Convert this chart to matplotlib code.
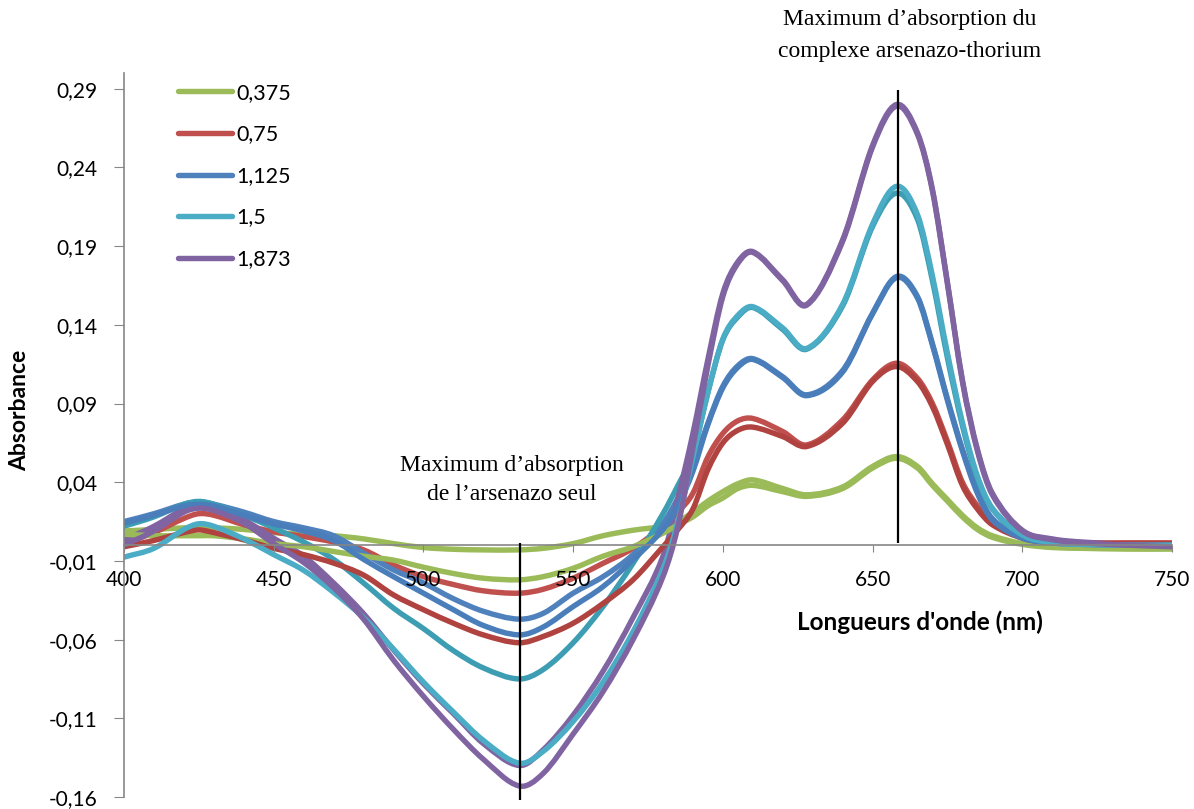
import numpy as np
import matplotlib
matplotlib.use("Agg")
import matplotlib.pyplot as plt
from matplotlib.path import Path
from matplotlib.patches import PathPatch
from matplotlib.lines import Line2D
from matplotlib.ticker import FuncFormatter

# wavelengths (nm)
wl = [400, 410, 420, 425, 430, 440, 450, 460, 470, 480,
      490, 500, 510, 520, 532, 540, 550, 560, 570, 580,
      585, 590, 595, 600, 605, 610, 620, 628, 640, 650,
      658, 665, 670, 675, 680, 685, 690, 700, 710, 720,
      735, 750]

# absorbance, two runs per concentration
green_a = [0.009, 0.010, 0.011, 0.011, 0.011, 0.010, 0.008, 0.007, 0.006, 0.004,
           0.001, -0.0015, -0.0026, -0.003, -0.003, -0.002, 0.001, 0.006, 0.0095, 0.012,
           0.015, 0.021, 0.028, 0.034, 0.039, 0.0415, 0.036, 0.032, 0.037, 0.050,
           0.0563, 0.050, 0.039, 0.029, 0.019, 0.011, 0.006, 0.001, -0.001, -0.0015,
           -0.002, -0.002]
green_b = [0.007, 0.006, 0.006, 0.006, 0.006, 0.004, 0.001, -0.001, -0.004, -0.007,
           -0.0095, -0.014, -0.018, -0.021, -0.022, -0.020, -0.0147, -0.007, -0.001, 0.0076,
           0.013, 0.018, 0.025, 0.030, 0.036, 0.038, 0.034, 0.031, 0.036, 0.049,
           0.0552, 0.049, 0.038, 0.028, 0.018, 0.010, 0.005, 0.0005, -0.0015, -0.002,
           -0.0025, -0.0025]
red_a = [0.001, 0.008, 0.017, 0.020, 0.019, 0.013, 0.0085, 0.0055, 0.002, -0.003,
         -0.0125, -0.020, -0.025, -0.029, -0.0305, -0.028, -0.021, -0.0115, -0.002, 0.012,
         0.021, 0.033, 0.056, 0.071, 0.079, 0.0805, 0.0722, 0.0637, 0.0796, 0.105,
         0.1156, 0.106, 0.090, 0.066, 0.040, 0.025, 0.014, 0.005, 0.002, 0.0015,
         0.0015, 0.0015]
red_b = [-0.001, 0.003, 0.008, 0.0097, 0.008, 0.0034, -0.002, -0.006, -0.0114, -0.019,
         -0.0316, -0.041, -0.0496, -0.057, -0.062, -0.058, -0.0496, -0.037, -0.022, -0.001,
         0.010, 0.023, 0.048, 0.065, 0.073, 0.075, 0.069, 0.0627, 0.0775, 0.104,
         0.1135, 0.104, 0.088, 0.064, 0.038, 0.023, 0.013, 0.0045, 0.0015, 0.001,
         0.001, 0.001]
blue_a = [0.015, 0.020, 0.026, 0.0275, 0.026, 0.021, 0.015, 0.011, 0.006, -0.005,
          -0.0157, -0.024, -0.034, -0.042, -0.047, -0.0433, -0.0305, -0.020, -0.006, 0.014,
          0.030, 0.050, 0.0775, 0.101, 0.114, 0.1185, 0.107, 0.0955, 0.111, 0.1474,
          0.1707, 0.158, 0.128, 0.093, 0.061, 0.034, 0.017, 0.0045, 0.0015, 0.0005,
          0.0, 0.0]
blue_b = [0.014, 0.019, 0.025, 0.026, 0.025, 0.019, 0.0135, 0.009, 0.003, -0.009,
          -0.020, -0.0305, -0.041, -0.051, -0.057, -0.052, -0.039, -0.0263, -0.0093, 0.010,
          0.025, 0.047, 0.0765, 0.100, 0.113, 0.118, 0.1065, 0.095, 0.110, 0.147,
          0.170, 0.157, 0.127, 0.092, 0.060, 0.033, 0.016, 0.0045, 0.0015, 0.0005,
          0.0, 0.0]
cyan_a = [0.012, 0.018, 0.026, 0.0278, 0.026, 0.019, 0.011, 0.002, -0.009, -0.024,
          -0.040, -0.053, -0.067, -0.078, -0.085, -0.079, -0.062, -0.039, -0.0115, 0.020,
          0.038, 0.058, 0.097, 0.1305, 0.145, 0.151, 0.137, 0.1245, 0.152, 0.2025,
          0.2237, 0.207, 0.168, 0.119, 0.076, 0.042, 0.023, 0.006, 0.0015, 0.0005,
          0.0, 0.0]
cyan_b = [-0.0076, -0.002, 0.010, 0.0136, 0.012, 0.004, -0.006, -0.016, -0.030, -0.046,
          -0.066, -0.087, -0.106, -0.124, -0.1385, -0.131, -0.112, -0.087, -0.055, -0.015,
          0.015, 0.056, 0.097, 0.131, 0.146, 0.1515, 0.138, 0.125, 0.153, 0.204,
          0.228, 0.210, 0.171, 0.122, 0.078, 0.044, 0.0235, 0.0065, 0.0015, 0.0005,
          0.0, 0.0]
purple_a = [0.0034, 0.012, 0.023, 0.0256, 0.024, 0.016, 0.0044, -0.007, -0.024, -0.0435,
            -0.0665, -0.088, -0.107, -0.126, -0.140, -0.130, -0.108, -0.080, -0.046, -0.007,
            0.030, 0.071, 0.118, 0.160, 0.180, 0.1865, 0.1686, 0.153, 0.194, 0.254,
            0.280, 0.262, 0.226, 0.167, 0.105, 0.061, 0.033, 0.0095, 0.004, 0.002,
            0.0005, -0.001]
purple_b = [0.0, 0.009, 0.021, 0.0235, 0.022, 0.014, 0.001, -0.011, -0.027, -0.047,
            -0.073, -0.096, -0.117, -0.136, -0.153, -0.145, -0.120, -0.093, -0.060, -0.020,
            0.012, 0.062, 0.114, 0.158, 0.179, 0.186, 0.168, 0.1525, 0.193, 0.253,
            0.279, 0.261, 0.225, 0.166, 0.104, 0.060, 0.032, 0.009, 0.0035, 0.0015,
            0.0, -0.001]

labels = ["0,375", "0,75", "1,125", "1,5", "1,873"]
x_ticks = [400, 450, 500, 550, 600, 650, 700, 750]
y_ticks = [-0.16, -0.11, -0.06, -0.01, 0.04, 0.09, 0.14, 0.19, 0.24, 0.29]

# wavelengths of the two marked maxima
arsenazo_max = 532.4
complex_max = 658.4


def smooth_path(x, y):
    # excel-style smoothed line: cubic bezier through every measured point
    x = np.asarray(x, float)
    y = np.asarray(y, float)
    n = len(x)
    m = np.empty(n)
    m[1:-1] = (y[2:] - y[:-2]) / (x[2:] - x[:-2])
    m[0] = (y[1] - y[0]) / (x[1] - x[0])
    m[-1] = (y[-1] - y[-2]) / (x[-1] - x[-2])
    verts = [(x[0], y[0])]
    codes = [Path.MOVETO]
    for i in range(n - 1):
        h = x[i + 1] - x[i]
        verts += [(x[i] + h / 3, y[i] + m[i] * h / 3),
                  (x[i + 1] - h / 3, y[i + 1] - m[i + 1] * h / 3),
                  (x[i + 1], y[i + 1])]
        codes += [Path.CURVE4] * 3
    return Path(verts, codes)


fig = plt.figure(figsize=(11.94, 8.09), dpi=100)
ax = fig.add_axes([124 / 1194, 1 - 797 / 809, (1172 - 124) / 1194, (797 - 73) / 809])

lw = 3.9
runs = [
    (green_a, "#9BBB59"),
    (red_a, "#C0504D"),
    (blue_a, "#4F81BD"),
    (cyan_a, "#3C9DB3"),
    (purple_a, "#8064A2"),
    (green_b, "#9BBB59"),
    (red_b, "#B0423F"),
    (blue_b, "#4A7EBB"),
    (cyan_b, "#4BACC6"),
    (purple_b, "#8064A2"),
]
for vals, col in runs:
    patch = PathPatch(smooth_path(wl, vals), fill=False, edgecolor=col, lw=lw,
                      capstyle="round", joinstyle="round")
    ax.add_patch(patch)

ax.vlines(arsenazo_max, -0.162, 0.0015, color="black", lw=1.6, clip_on=False, zorder=5)
ax.vlines(complex_max, 0.0015, 0.289, color="black", lw=1.6, zorder=5)

ax.set_xlim(400, 750)
ax.set_ylim(-0.16, 0.30)
ax.spines["top"].set_visible(False)
ax.spines["right"].set_visible(False)
ax.spines["bottom"].set_position(("data", 0))
for s in ("left", "bottom"):
    ax.spines[s].set_color("#868686")
    ax.spines[s].set_linewidth(1.2)

ax.set_xticks(x_ticks)
ax.set_yticks(y_ticks)
ax.yaxis.set_major_formatter(FuncFormatter(lambda v, p: f"{v:.2f}".replace(".", ",")))
tick_font = "Lato"
ax.tick_params(axis="x", direction="out", length=5, color="#868686", pad=13,
               labelsize=15)
ax.tick_params(axis="y", direction="out", length=7, color="#868686", pad=12,
               labelsize=15)
for t in ax.get_xticklabels() + ax.get_yticklabels():
    t.set_fontfamily(tick_font)

fig.text(20 / 1194, 1 - 410 / 809, "Absorbance", rotation=90, ha="center",
         va="center", fontsize=16.5, fontweight="bold", family=tick_font)
fig.text(920 / 1194, 1 - 622 / 809, "Longueurs d'onde (nm)", ha="center",
         va="center", fontsize=17.5, fontweight="bold", family=tick_font)

legend_colors = ["#9BBB59", "#C0504D", "#4F81BD", "#4BACC6", "#8064A2"]
proxies = [Line2D([], [], color=c, lw=lw, solid_capstyle="round") for c in legend_colors]
ax.legend(proxies, labels, loc="upper left",
          bbox_to_anchor=(178 / 1194, 1 - 83 / 809), bbox_transform=fig.transFigure,
          frameon=False, borderpad=0, borderaxespad=0, handlelength=2.5,
          handletextpad=0.2, labelspacing=1.0, prop={"family": tick_font, "size": 15.5})

serif = "Liberation Serif"
fig.text(910 / 1194, 1 - 20 / 809, "Maximum d\u2019absorption du", ha="center",
         va="center", fontsize=17, family=serif)
fig.text(910 / 1194, 1 - 52 / 809, "complexe arsenazo-thorium", ha="center",
         va="center", fontsize=17, family=serif)
fig.text(512 / 1194, 1 - 465 / 809, "Maximum d\u2019absorption", ha="center",
         va="center", fontsize=17, family=serif)
fig.text(512 / 1194, 1 - 495 / 809, "de l\u2019arsenazo seul", ha="center",
         va="center", fontsize=17, family=serif)

fig.savefig("out.png", dpi=100)
